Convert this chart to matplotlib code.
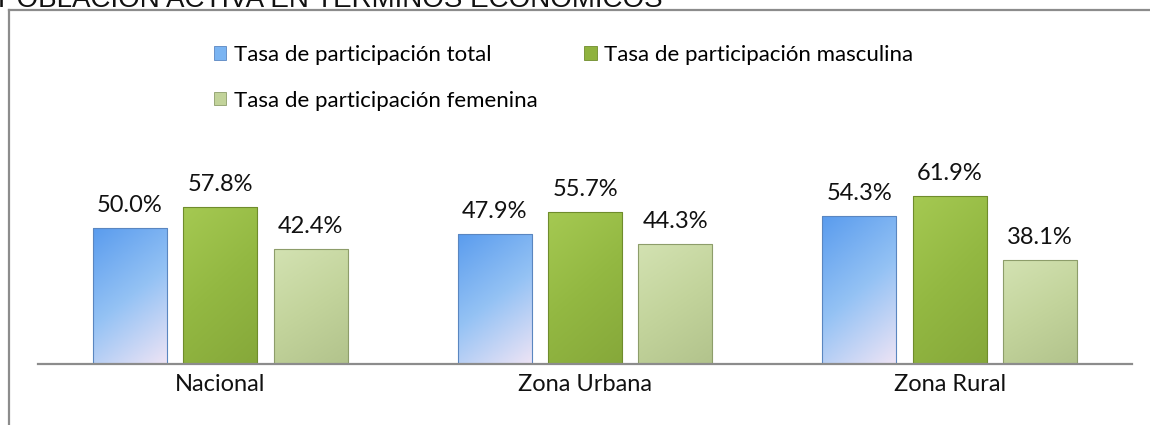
import matplotlib
matplotlib.use('Agg')
import matplotlib.pyplot as plt
import numpy as np
from matplotlib.colors import LinearSegmentedColormap
from matplotlib.patches import Patch
from matplotlib.lines import Line2D

# data
categories = ['Nacional', 'Zona Urbana', 'Zona Rural']
series_names = ['Tasa de participación total',
                'Tasa de participación masculina',
                'Tasa de participación femenina']
total = [50.0, 47.9, 54.3]
masculina = [57.8, 55.7, 61.9]
femenina = [42.4, 44.3, 38.1]

title = 'POBLACIÓN ACTIVA EN TÉRMINOS ECONÓMICOS'

plt.rcParams['font.family'] = ['Lato', 'DejaVu Sans']

W, H = 1150, 425
fig = plt.figure(figsize=(W / 100, H / 100), dpi=100)

# chart frame (cut at right/bottom) and clipped title
fig.add_artist(Line2D([9 / W, 1.0], [1 - 10 / H, 1 - 10 / H], color='#8c8c8c', lw=1.6))
fig.add_artist(Line2D([9 / W, 9 / W], [1 - 10 / H, 0], color='#8c8c8c', lw=1.6))
fig.text(-2 / W, 1 - 7 / H, title, family='Liberation Sans', fontsize=20,
         va='baseline', ha='left', color='#111111')

px = 2.72  # pixels per percentage point
ax = fig.add_axes([38 / W, 61 / H, 1094 / W, 244 / H])

x = np.arange(len(categories))
width = 0.203
offs = [-0.248, 0.0, 0.248]
series = [total, masculina, femenina]

# gradient colour stops (top-left -> bottom-right)
grads = [
    ['#5a9cee', '#94c2f4', '#eee4f5'],
    ['#a5c952', '#93b842', '#86a83a'],
    ['#d3e2b2', '#c3d49c', '#b2c38c'],
]
edges = ['#5a86c0', '#6f8c2c', '#8d9d6a']
legend_cols = ['#7ab4f2', '#8fb23e', '#c2d39a']

for vals, off, g, ec in zip(series, offs, grads, edges):
    bars = ax.bar(x + off, vals, width, facecolor='none', edgecolor=ec, lw=0.8, zorder=3)
    cmap = LinearSegmentedColormap.from_list('g', g)
    for b, v in zip(bars, vals):
        xx, yy = np.meshgrid(np.linspace(0, 1, 60), np.linspace(0, 1, 120))
        grad = 0.3 * xx + 0.7 * (1 - yy)
        im = ax.imshow(grad, cmap=cmap, extent=[b.get_x(), b.get_x() + width, 0, v],
                       aspect='auto', zorder=2, origin='lower', vmin=0, vmax=1)
        im.set_clip_path(b)
        # soft shadow at the base
        ax.bar(b.get_x() + width / 2 + 0.006, 1.0, width * 1.02, bottom=-1.0,
               color='#c4c4c4', alpha=0.6, zorder=1, lw=0)
        ax.text(b.get_x() + width / 2, v + 16 / px, f'{v:.1f}%', ha='center', va='baseline',
                fontsize=17, color='#111111', zorder=4)

ax.set_xlim(-0.5, 2.5)
ax.set_ylim(0, 244 / px)

for s in ['top', 'right', 'left']:
    ax.spines[s].set_visible(False)
ax.spines['bottom'].set_color('#8c8c8c')
ax.spines['bottom'].set_linewidth(1.6)
ax.spines['bottom'].set_zorder(5)
ax.set_yticks([])
ax.set_xticks(x)
ax.set_xticklabels(categories, fontsize=17, color='#111111')
ax.tick_params(axis='x', length=0, pad=7)

handles = [Patch(facecolor=legend_cols[0], edgecolor=edges[0], lw=0.6),
           Patch(facecolor=legend_cols[2], edgecolor=edges[2], lw=0.6),
           Patch(facecolor=legend_cols[1], edgecolor=edges[1], lw=0.6)]
labels = [series_names[0], series_names[2], series_names[1]]
fig.legend(handles, labels, ncol=2, frameon=False, fontsize=16,
           loc='upper left', bbox_to_anchor=(194 / W, 1 - 25 / H),
           handlelength=0.55, handleheight=0.55, handletextpad=0.35,
           columnspacing=2.1, labelspacing=1.15)

fig.savefig('out.png', dpi=100, facecolor='white')
